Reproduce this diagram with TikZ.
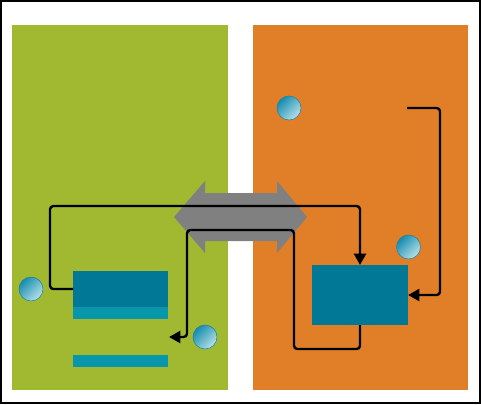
\documentclass[tikz,border=0pt]{standalone}
\usetikzlibrary{arrows.meta}
\definecolor{panelgreen}{RGB}{161,185,48}
\definecolor{panelorange}{RGB}{225,127,40}
\definecolor{tealdark}{RGB}{0,120,150}
\definecolor{teallight}{RGB}{8,151,170}
\definecolor{arrowgray}{RGB}{128,128,128}
\definecolor{balldark}{RGB}{20,140,175}
\definecolor{balllight}{RGB}{185,225,232}
\definecolor{ballrim}{RGB}{25,130,165}
\tikzset{
  panel/.style={inner sep=0pt, outer sep=0pt, draw=none},
  tealbox/.style={fill=tealdark, inner sep=0pt, outer sep=0pt, draw=none},
  tealbar/.style={fill=teallight, inner sep=0pt, outer sep=0pt, draw=none},
  conn/.style={line width=1.8pt, rounded corners=2.5pt, -{Triangle[length=8.5pt,width=9pt]}},
  ball/.style={circle, minimum size=18pt, inner sep=0pt, draw=ballrim, line width=0.4pt,
    top color=balldark, bottom color=balllight, shading angle=45},
}
\begin{document}
\begin{tikzpicture}[x=0.75pt,y=-0.75pt]
\useasboundingbox (0,0) rectangle (481,404);
\fill[white] (0,0) rectangle (481,404);
\draw[line width=1.2pt] (0.8,0.8) rectangle (480.2,403.2);
% panels
\node[panel, fill=panelgreen, minimum width=162pt, minimum height=273.75pt] (lpanel) at (120,207.5) {};
\node[panel, fill=panelorange, minimum width=161.25pt, minimum height=273.75pt] (rpanel) at (360.5,207.5) {};
% gray double arrow
\fill[arrowgray] (174,217) -- (205,181) -- (205,193) -- (277,193) -- (277,181) -- (307,217)
  -- (277,253) -- (277,241) -- (205,241) -- (205,253) -- cycle;
% boxes
\node[tealbox, minimum width=71.25pt, minimum height=27pt] (lbox) at (120.5,289) {};
\node[tealbar, minimum width=71.25pt, minimum height=9pt, anchor=north] (lband) at (lbox.south) {};
\node[tealbar, minimum width=71.25pt, minimum height=9pt] (lbar) at (120.5,361) {};
\node[tealbox, minimum width=72pt, minimum height=45pt] (rbox) at (360,295) {};
% connectors
\coordinate (c1a) at (50,289);
\coordinate (c1b) at (50,206);
\coordinate (c1c) at (360,206);
\draw[conn] (lbox.west) -- (c1a) -- (c1b) -- (c1c) -- (rbox.north);
\coordinate (c2a) at (360,349);
\coordinate (c2b) at (294,349);
\coordinate (c2c) at (294,230);
\coordinate (c2d) at (187,230);
\coordinate (c2e) at (187,337);
\coordinate (c2end) at (169,337);
\draw[conn] (rbox.south) -- (c2a) -- (c2b) -- (c2c) -- (c2d) -- (c2e) -- (c2end);
\coordinate (c3start) at (407,108);
\coordinate (c3a) at (440,108);
\coordinate (c3b) at (440,295);
\draw[conn] (c3start) -- (c3a) -- (c3b) -- (rbox.east);
% balls
\node[ball] (b1) at (31,289) {};
\node[ball] (b2) at (205,337) {};
\node[ball] (b3) at (289,108) {};
\node[ball] (b4) at (408.5,247) {};
\end{tikzpicture}
\end{document}
